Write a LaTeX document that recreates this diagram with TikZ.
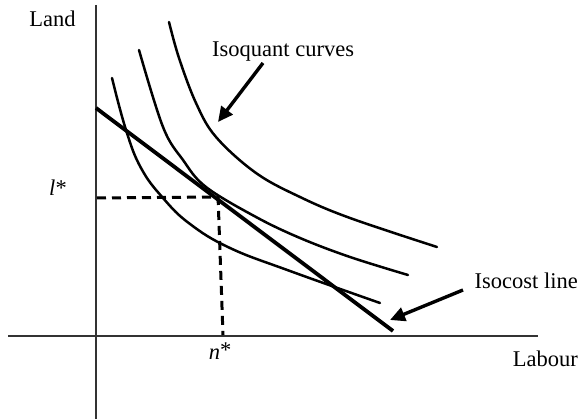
\documentclass[tikz,border=0pt]{standalone}
\usepackage{fontspec}
\setmainfont{Liberation Serif}
\usetikzlibrary{arrows.meta}
\begin{document}
\begin{tikzpicture}[x=1pt,y=-1pt,
  axis/.style={line width=1.3pt,draw=black!80},
  iso/.style={line width=2.5pt,line cap=round},
  costline/.style={line width=3.8pt},
  guide/.style={line width=3pt,dash pattern=on 9pt off 6pt},
  pointer/.style={line width=3.4pt,-{Triangle[length=15pt,width=14pt]}},
  lbl/.style={font=\fontsize{22.5}{27}\selectfont,inner sep=0pt}]
\useasboundingbox (0,0) rectangle (582,419);
% axes
\coordinate (ytop) at (96,5);
\coordinate (ybot) at (96,419);
\coordinate (xl) at (8,336);
\coordinate (xr) at (538,336);
\draw[axis] (ytop) -- (ybot);
\draw[axis] (xl) -- (xr);
% isoquants
\draw[iso] plot[smooth,tension=0.7] coordinates {(112,78) (126,130) (141,168) (163,198) (190,224) (230,248) (290,271) (380,303)};
\draw[iso] plot[smooth,tension=0.6] coordinates {(139,50) (163,127) (183,160) (206,187) (256,217) (300,238) (350,257) (408,275)};
\draw[iso] plot[smooth,tension=0.6] coordinates {(169,22) (179,58) (196,103) (216,137) (256,173) (300,197) (350,218) (437,247)};
% isocost
\coordinate (ca) at (96,108);
\coordinate (cb) at (393,331);
\draw[costline] (ca) -- (cb);
% dashed guides
\coordinate (lstar) at (97,198);
\coordinate (opt) at (218,197);
\coordinate (nstar) at (223,335);
\draw[guide] (lstar) -- (opt);
\draw[guide] (218,196) -- (nstar);
% labels
\node[lbl,anchor=base] (land) at (52.5,27) {Land};
\node[lbl,anchor=base west] (isoq) at (212,57) {Isoquant curves};
\node[lbl,anchor=base east] (isoc) at (578,289) {Isocost line};
\node[lbl,anchor=base east] (lab) at (578,367) {Labour};
\node[lbl,anchor=base] (nlab) at (220,360) {\textit{n}\raisebox{2pt}{*}};
\node[lbl,anchor=base] (llab) at (58,196) {\textit{l}*};
% pointers
\coordinate (qa) at (263,63);
\coordinate (qb) at (218,122);
\coordinate (ka) at (463,290);
\coordinate (kb) at (390,320);
\draw[pointer] (qa) -- (qb);
\draw[pointer] (ka) -- (kb);
\end{tikzpicture}
\end{document}
